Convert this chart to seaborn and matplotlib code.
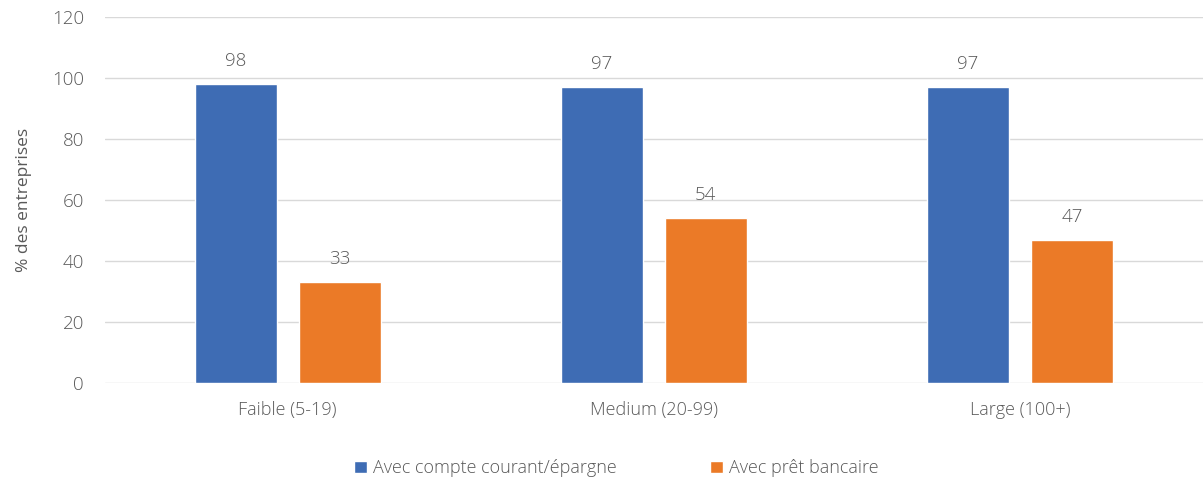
import matplotlib
matplotlib.use("Agg")
import matplotlib.pyplot as plt
import seaborn as sns
import pandas as pd

# Firm size categories and the share of firms with each banking product
categories = ["Faible (5-19)", "Medium (20-99)", "Large (100+)"]
series_names = ["Avec compte courant/épargne", "Avec prêt bancaire"]
compte_courant = [98, 97, 97]
pret_bancaire = [33, 54, 47]
y_ticks = [0, 20, 40, 60, 80, 100, 120]

df = pd.DataFrame({
    "categorie": categories * 2,
    "serie": [series_names[0]] * 3 + [series_names[1]] * 3,
    "valeur": compte_courant + pret_bancaire,
})

sns.set_theme(style="white")
plt.rcParams["font.family"] = ["Open Sans", "DejaVu Sans"]
plt.rcParams["font.weight"] = "light"
text_color = "#595959"
palette = {series_names[0]: "#3E6CB4", series_names[1]: "#EB7A27"}

fig = plt.figure(figsize=(12.03, 4.78), dpi=100)
ax = fig.add_axes([0.087, 0.199, 0.913, 0.765])

sns.barplot(data=df, x="categorie", y="valeur", hue="serie", order=categories,
            hue_order=series_names, palette=palette, width=0.568, gap=0.21,
            saturation=1, ax=ax, legend=True)

ax.set_ylim(0, 120)
ax.set_xlim(-0.5, 2.5)
ax.set_yticks(y_ticks)
ax.yaxis.grid(True, color="#D9D9D9", linewidth=1)
ax.set_axisbelow(True)
for s in ax.spines.values():
    s.set_visible(False)
ax.tick_params(axis="both", length=0, labelcolor=text_color)
ax.tick_params(axis="x", pad=13, labelsize=13)
ax.tick_params(axis="y", pad=15, labelsize=13.5)
ax.set_xlabel("")
ax.set_ylabel("% des entreprises", fontsize=12.5, color=text_color, labelpad=14)

for container in ax.containers:
    ax.bar_label(container, fmt="%d", padding=10, fontsize=13.5, color=text_color)

handles, labels = ax.get_legend_handles_labels()
ax.legend(handles, labels, loc="upper center", bbox_to_anchor=(0.466, -0.165),
          ncol=2, frameon=False, fontsize=13, labelcolor=text_color,
          handlelength=0.7, handleheight=0.7, handletextpad=0.35,
          columnspacing=5.2)

fig.savefig("out.png", dpi=100)
